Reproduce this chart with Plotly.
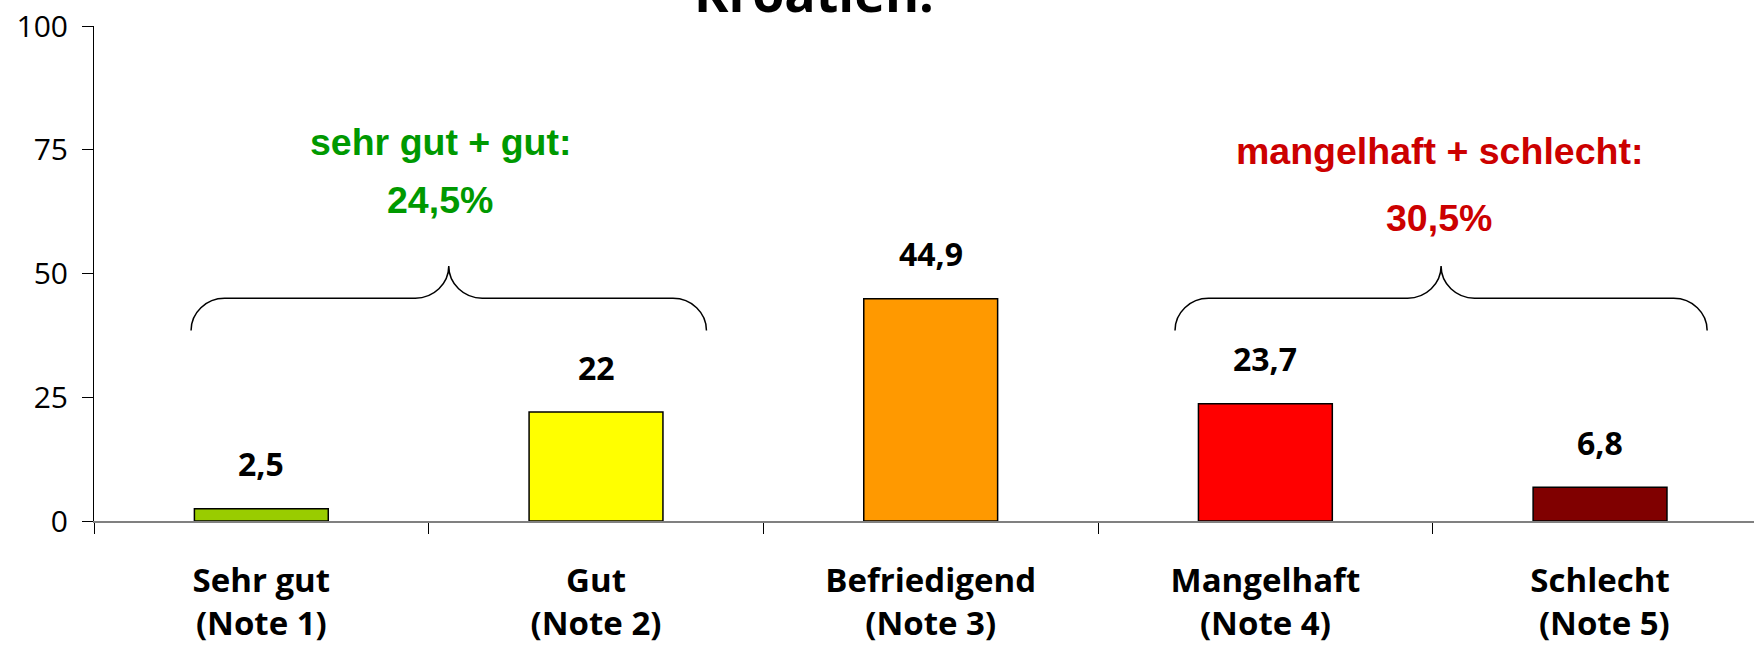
import plotly.graph_objects as go

# データ
categories = ["Sehr gut<br>(Note 1)", "Gut<br>(Note 2)", "Befriedigend<br>(Note 3)",
              "Mangelhaft<br>(Note 4)", "Schlecht<br> (Note 5)"]
values = [2.5, 22, 44.9, 23.7, 6.8]
value_labels = ["2,5", "22", "44,9", "23,7", "6,8"]
bar_colors = ["#99CC00", "#FFFF00", "#FF9900", "#FF0000", "#800000"]
y_ticks = [0, 25, 50, 75, 100]

title_text = "Kroatien:"
good_text = ["sehr gut + gut:", "24,5%"]
bad_text = ["mangelhaft + schlecht:", "30,5%"]
good_span = [-0.21, 1.33]   # Klammer über Note 1-2
bad_span = [2.73, 4.32]     # Klammer über Note 4-5

x = list(range(len(categories)))


def brace_path(x0, x1, y_end=38.5, y_line=45, y_peak=51.5, dx=0.1):
    """geschweifte Klammer als SVG-Pfad"""
    xm = (x0 + x1) / 2
    k = 0.55
    p = f"M {x0},{y_end} "
    p += f"C {x0},{y_end + k*(y_line-y_end)} {x0 + (1-k)*dx},{y_line} {x0+dx},{y_line} "
    p += f"L {xm-dx},{y_line} "
    p += f"C {xm-(1-k)*dx},{y_line} {xm},{y_line + (1-k)*(y_peak-y_line)} {xm},{y_peak} "
    p += f"C {xm},{y_line + (1-k)*(y_peak-y_line)} {xm+(1-k)*dx},{y_line} {xm+dx},{y_line} "
    p += f"L {x1-dx},{y_line} "
    p += f"C {x1-(1-k)*dx},{y_line} {x1},{y_end + k*(y_line-y_end)} {x1},{y_end}"
    return p


fig = go.Figure()
fig.add_trace(go.Bar(
    x=x, y=values, width=0.4,
    marker=dict(color=bar_colors, line=dict(color="black", width=1.5)),
    hoverinfo="skip"
))

# Datenbeschriftung
for xi, v, lab in zip(x, values, value_labels):
    fig.add_annotation(x=xi, y=v, text=lab, showarrow=False, yanchor="middle", yshift=45,
                       font=dict(family="Open Sans", size=32, color="black", weight="bold"))

# Klammern
for span in (good_span, bad_span):
    fig.add_shape(type="path", path=brace_path(*span), xref="x", yref="y",
                  line=dict(color="black", width=1.5))

# Gruppen-Texte
for txt, ys, xc, col in ((good_text, [76.5, 64.9], 0.534, "#009900"),
                         (bad_text, [74.8, 61.3], 3.52, "#CC0000")):
    for t, yy in zip(txt, ys):
        fig.add_annotation(x=xc, y=yy, text=f"<b>{t}</b>", showarrow=False, yanchor="middle",
                           font=dict(family="Liberation Sans, Arial", size=37.5, color=col))

# Titel (oben abgeschnitten)
fig.add_annotation(x=0.434, y=1, xref="paper", yref="paper", text=f"<b>{title_text}</b>",
                   showarrow=False, xanchor="center", yanchor="bottom", yshift=-3,
                   font=dict(family="Open Sans", size=52, color="black"))

fig.update_layout(
    width=1754, height=646,
    margin=dict(l=94, r=0, t=26, b=125),
    plot_bgcolor="white", paper_bgcolor="white",
    showlegend=False,
    bargap=0.6,
)
fig.update_xaxes(
    range=[-0.5, 4.46], tickvals=x, ticktext=categories, ticks="",
    showline=True, linecolor="#808080", linewidth=2, showgrid=False, zeroline=False,
    tickfont=dict(family="Open Sans", size=33, color="black", weight="bold"),
    ticklabelstandoff=29,
    minor=dict(tickvals=[-0.5, 0.5, 1.5, 2.5, 3.5], ticks="outside", ticklen=11,
               tickcolor="black", tickwidth=1, showgrid=False),
)
fig.update_yaxes(
    range=[0, 100], tickvals=y_ticks, ticks="outside", ticklen=11, tickcolor="black",
    showline=True, linecolor="black", linewidth=1, showgrid=False, zeroline=False,
    tickfont=dict(family="Open Sans", size=30, color="black"),
    ticklabelstandoff=8,
)

# Seitenrand entfernen, damit die Grafik bündig im Fenster sitzt
fig.write_html("out.html", config={"displayModeBar": False},
               post_script="document.body.style.margin='0';")
